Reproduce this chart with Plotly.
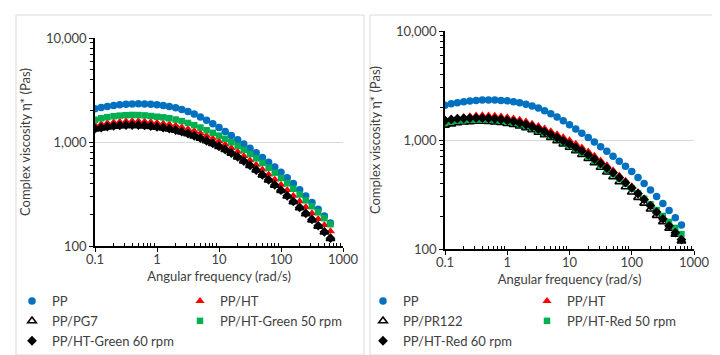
import plotly.graph_objects as go

# Angular frequency (rad/s), 10 points per decade, 0.1 .. 628
freq = [0.1, 0.126, 0.158, 0.2, 0.251, 0.316, 0.398, 0.501, 0.631, 0.794,
        1, 1.26, 1.58, 2, 2.51, 3.16, 3.98, 5.01, 6.31, 7.94,
        10, 12.6, 15.8, 20, 25.1, 31.6, 39.8, 50.1, 63.1, 79.4,
        100, 126, 158, 200, 251, 316, 398, 501, 628]

# ---- Left panel (Green) ----
pp = [2089, 2148, 2198, 2239, 2275, 2301, 2323, 2328, 2323, 2307,
      2286, 2249, 2198, 2133, 2056, 1963, 1858, 1742, 1622, 1500,
      1377, 1262, 1153, 1052, 957, 869, 787, 711, 640, 574,
      513, 454, 399, 348, 303, 262, 226, 194, 166]
pp_ht_L = [1445, 1486, 1521, 1549, 1570, 1585, 1592, 1589, 1578, 1556,
           1531, 1510, 1479, 1439, 1390, 1334, 1274, 1211, 1146, 1079,
           1014, 946, 875, 804, 735, 668, 605, 545, 488, 437,
           389, 345, 305, 269, 237, 207, 182, 159, 139]
pp_pg7 = [1330, 1362, 1390, 1412, 1428, 1438, 1440, 1436, 1426, 1408,
          1384, 1362, 1332, 1294, 1248, 1198, 1142, 1084, 1024, 964,
          906, 844, 780, 716, 654, 594, 536, 481, 431, 384,
          342, 302, 266, 233, 204, 178, 155, 136, 118]
pp_ht_green50 = [1637, 1690, 1734, 1770, 1795, 1811, 1820, 1816, 1803, 1778,
                 1750, 1726, 1690, 1644, 1589, 1524, 1452, 1377, 1300, 1225,
                 1151, 1074, 995, 918, 841, 767, 697, 630, 566, 507,
                 451, 401, 355, 313, 275, 241, 211, 185, 162]
pp_ht_green60 = [1343, 1374, 1403, 1426, 1442, 1452, 1455, 1452, 1442, 1422,
                 1396, 1374, 1343, 1303, 1256, 1205, 1148, 1089, 1028, 968,
                 910, 847, 783, 719, 656, 596, 538, 483, 433, 386,
                 344, 304, 268, 235, 206, 180, 157, 137, 119]

# ---- Right panel (Red) ----
pp_ht_R = [1483, 1535, 1581, 1622, 1652, 1675, 1683, 1679, 1667, 1644,
           1614, 1578, 1531, 1476, 1413, 1346, 1276, 1205, 1132, 1062,
           993, 925, 855, 785, 716, 650, 587, 528, 473, 423,
           376, 332, 291, 254, 220, 190, 164, 141, 122]
pp_pr122 = [1365, 1403, 1435, 1459, 1472, 1483, 1483, 1476, 1462, 1442,
            1416, 1384, 1343, 1294, 1239, 1178, 1114, 1050, 984, 920,
            857, 796, 735, 675, 617, 561, 508, 459, 414, 372,
            333, 297, 263, 232, 203, 178, 155, 136, 118]
pp_ht_red50 = [1439, 1472, 1500, 1521, 1535, 1542, 1542, 1535, 1521, 1500,
               1472, 1439, 1396, 1346, 1288, 1225, 1159, 1091, 1023, 955,
               889, 826, 764, 703, 644, 587, 535, 485, 440, 398,
               360, 324, 289, 257, 228, 201, 177, 156, 137]
pp_ht_red60 = [1517, 1545, 1567, 1581, 1589, 1592, 1589, 1578, 1563, 1542,
               1514, 1479, 1435, 1384, 1324, 1259, 1191, 1122, 1052, 984,
               918, 855, 793, 729, 668, 610, 553, 500, 451, 406,
               363, 323, 285, 250, 218, 189, 163, 141, 122]

x_tickvals = [0.1, 1, 10, 100, 1000]
x_ticktext = ["0.1", "1", "10", "100", "1000"]
y_tickvals = [100, 1000, 10000]
y_ticktext = ["100", "1,000", "10,000"]
x_minor = [0.2, 0.3, 0.4, 0.5, 0.6, 0.7, 0.8, 0.9, 2, 3, 4, 5, 6, 7, 8, 9,
           20, 30, 40, 50, 60, 70, 80, 90, 200, 300, 400, 500, 600, 700, 800, 900]
y_minor = [200, 300, 400, 500, 600, 700, 800, 900,
           2000, 3000, 4000, 5000, 6000, 7000, 8000, 9000]

BLUE = "#0070C0"
RED = "#FF0000"
GREEN = "#00B050"
BLACK = "#000000"
TXT = "#404040"
FONT = "Lato, Open Sans, sans-serif"
FS = 13

W, H = 720, 355

def px(x):
    return x / W

def py(y):
    return 1 - y / H

fig = go.Figure()

def add(name, y, xa, ya, symbol, color, size, legend, line=None):
    marker = dict(symbol=symbol, color=color, size=size)
    if line:
        marker["line"] = line
    else:
        marker["line"] = dict(width=0)
    fig.add_trace(go.Scatter(x=freq, y=y, mode="markers", name=name,
                             xaxis=xa, yaxis=ya, marker=marker, legend=legend))

# Left panel: order of drawing = PP, PP/HT, PP/PG7, Green50, Green60
add("PP", pp, "x", "y", "circle", BLUE, 7.5, "legend")
add("PP/HT", pp_ht_L, "x", "y", "triangle-up", RED, 8, "legend2")
add("PP/PG7", pp_pg7, "x", "y", "triangle-up", "white", 7.5, "legend",
    line=dict(color=BLACK, width=1.6))
add("PP/HT-Green 50 rpm", pp_ht_green50, "x", "y", "square", GREEN, 6.5, "legend2")
add("PP/HT-Green 60 rpm", pp_ht_green60, "x", "y", "diamond", BLACK, 7.5, "legend")

# Right panel
add("PP", pp, "x2", "y2", "circle", BLUE, 7.5, "legend3")
add("PP/HT", pp_ht_R, "x2", "y2", "triangle-up", RED, 8, "legend4")
add("PP/PR122", pp_pr122, "x2", "y2", "triangle-up", "white", 7.5, "legend3",
    line=dict(color=BLACK, width=1.6))
add("PP/HT-Red 50 rpm", pp_ht_red50, "x2", "y2", "square", GREEN, 6.5, "legend4")
add("PP/HT-Red 60 rpm", pp_ht_red60, "x2", "y2", "diamond", BLACK, 7.5, "legend3")

def xaxis(domain, anchor):
    return dict(type="log", range=[-1, 3], domain=domain, anchor=anchor,
                tickvals=x_tickvals, ticktext=x_ticktext,
                ticks="outside", ticklen=4, tickwidth=1, tickcolor=BLACK,
                ticklabelstandoff=-3,
                minor=dict(tickvals=x_minor, ticks="inside", ticklen=3,
                           tickwidth=1, tickcolor=BLACK, showgrid=False),
                showline=True, linecolor=BLACK, linewidth=1.5,
                showgrid=False, zeroline=False,
                tickfont=dict(family=FONT, size=FS, color=TXT),
                title=dict(text="Angular frequency (rad/s)", standoff=6,
                           font=dict(family=FONT, size=FS, color=TXT)),
                automargin=False)

def yaxis(domain, anchor):
    return dict(type="log", range=[2, 4], domain=domain, anchor=anchor,
                tickvals=y_tickvals, ticktext=y_ticktext,
                ticks="outside", ticklen=4, tickwidth=1, tickcolor=BLACK,
                minor=dict(tickvals=y_minor, ticks="outside", ticklen=3,
                           tickwidth=1, tickcolor=BLACK, showgrid=False),
                showline=True, linecolor=BLACK, linewidth=1.5,
                showgrid=True, gridcolor="#D9D9D9", gridwidth=1,
                zeroline=False,
                tickfont=dict(family=FONT, size=FS, color=TXT),
                title=dict(text="Complex viscosity η* (Pas)", standoff=12,
                           font=dict(family=FONT, size=FS, color=TXT)),
                automargin=False)

def leg(x_px, y_px):
    return dict(x=px(x_px), y=py(y_px), xanchor="left", yanchor="top",
                orientation="v", bgcolor="rgba(0,0,0,0)", borderwidth=0,
                font=dict(family=FONT, size=FS, color=TXT),
                itemclick=False, itemdoubleclick=False)

fig.update_layout(
    width=W, height=H,
    margin=dict(l=0, r=0, t=0, b=0),
    paper_bgcolor="white", plot_bgcolor="white",
    showlegend=True,
    xaxis=xaxis([px(87), px(335)], "y"),
    yaxis=yaxis([py(238), py(30)], "x"),
    xaxis2=xaxis([px(437), px(686)], "y2"),
    yaxis2=yaxis([py(241), py(23)], "x2"),
    legend=leg(4, 278),
    legend2=leg(172, 278),
    legend3=leg(355, 278),
    legend4=leg(519, 278),
    shapes=[
        dict(type="rect", xref="paper", yref="paper",
             x0=px(8), x1=px(356), y0=py(347), y1=py(7),
             line=dict(color="#D9D9D9", width=1), fillcolor="rgba(0,0,0,0)",
             layer="below"),
        dict(type="rect", xref="paper", yref="paper",
             x0=px(362), x1=px(712), y0=py(347), y1=py(7),
             line=dict(color="#D9D9D9", width=1), fillcolor="rgba(0,0,0,0)",
             layer="below"),
    ],
)

fig.write_html("out.html")
